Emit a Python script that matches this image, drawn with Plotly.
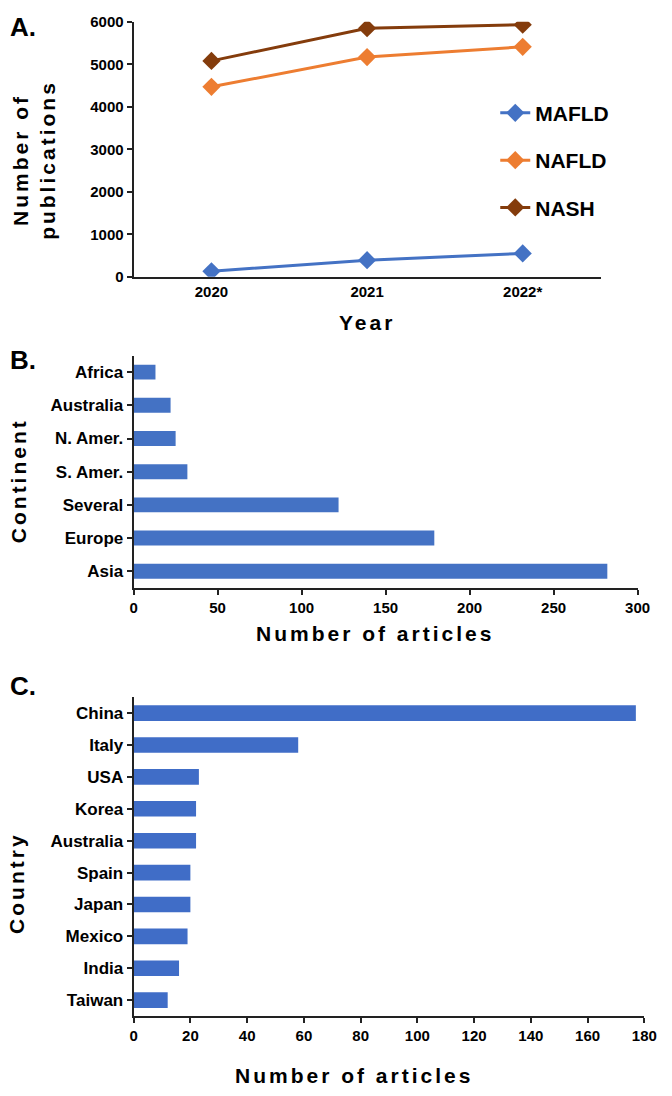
import plotly.graph_objects as go

W, H = 672, 1096

years = ["2020", "2021", "2022*"]
mafld = [130, 390, 550]
nafld = [4470, 5170, 5410]
nash = [5080, 5850, 5930]

continents = ["Asia", "Europe", "Several", "S. Amer.", "N. Amer.", "Australia", "Africa"]
continent_articles = [282, 179, 122, 32, 25, 22, 13]

countries = ["Taiwan", "India", "Mexico", "Japan", "Spain", "Australia", "Korea", "USA", "Italy", "China"]
country_articles = [12, 16, 19, 20, 20, 22, 22, 23, 58, 177]

BLUE = "#4472C4"
BLUE_C = "#406DC7"
ORANGE = "#ED7D31"
BROWN = "#843C0C"
FAM = "Liberation Sans, Arial"
NUMFONT = dict(family=FAM, size=15, color="black", weight="bold")
CATFONT = dict(family=FAM, size=17, color="black", weight="bold")


def px(x):
    return x / W


def py(y):
    return 1 - y / H


fig = go.Figure()

for name, vals, col in [("MAFLD", mafld, BLUE), ("NAFLD", nafld, ORANGE), ("NASH", nash, BROWN)]:
    fig.add_trace(go.Scatter(
        x=years, y=vals, name=name, mode="lines+markers",
        line=dict(color=col, width=3),
        marker=dict(symbol="diamond", size=14, color=col),
        xaxis="x", yaxis="y", legendgroup=name,
    ))

fig.add_trace(go.Bar(
    x=continent_articles, y=continents, orientation="h",
    marker=dict(color=BLUE, line=dict(width=0)), width=0.45,
    xaxis="x2", yaxis="y2", showlegend=False,
))

fig.add_trace(go.Bar(
    x=country_articles, y=countries, orientation="h",
    marker=dict(color=BLUE_C, line=dict(width=0)), width=0.49,
    xaxis="x3", yaxis="y3", showlegend=False,
))

base = dict(showline=True, linecolor="#222222", linewidth=2, showgrid=False,
            zeroline=False, tickcolor="#222222", ticklen=5, tickwidth=1.5)

fig.update_layout(
    width=W, height=H,
    margin=dict(l=0, r=0, t=0, b=0),
    plot_bgcolor="white", paper_bgcolor="white",
    showlegend=True,
    legend=dict(x=px(504), y=py(85), xanchor="left", yanchor="top",
                font=dict(family=FAM, size=21, color="black", weight="bold"),
                tracegroupgap=17, bgcolor="rgba(0,0,0,0)", itemwidth=30),
    xaxis=dict(domain=[px(133), px(612)], anchor="y", type="category", range=[-0.5, 2.5],
               ticks="", tickfont=NUMFONT, **base),
    yaxis=dict(domain=[py(272), py(13)], anchor="x", range=[0, 6000], dtick=1000,
               ticks="outside", tickfont=NUMFONT, **base),
    xaxis2=dict(domain=[px(133), px(650)], anchor="y2", range=[0, 300], dtick=50,
                ticks="outside", tickfont=NUMFONT, **base),
    yaxis2=dict(domain=[py(588), py(352)], anchor="x2", type="category",
                ticks="outside", tickfont=CATFONT, **base),
    xaxis3=dict(domain=[px(133), px(657)], anchor="y3", range=[0, 180], dtick=20,
                ticks="outside", tickfont=NUMFONT, **base),
    yaxis3=dict(domain=[py(1023), py(699)], anchor="x3", type="category",
                ticks="outside", tickfont=CATFONT, **base),
)

ann = []


def add_text(text, x, y, size, angle=0, spacing=None, xanchor="center", yanchor="middle"):
    if spacing:
        text = "<br>".join('<span style="letter-spacing:%dpx">%s</span>' % (spacing, t) for t in text.split("<br>"))
    ann.append(dict(text=text, x=px(x), y=py(y), xref="paper", yref="paper", showarrow=False,
                    textangle=angle, xanchor=xanchor, yanchor=yanchor,
                    font=dict(family=FAM, size=size, color="black", weight="bold")))


add_text("A.", 4, 18, 26, xanchor="left")
add_text("B.", 4, 357, 26, xanchor="left")
add_text("C.", 4, 688, 26, xanchor="left")
add_text("Number of<br>publications", 30, 153, 21, angle=-90, spacing=3)
add_text("Year", 372, 318, 21, spacing=3)
add_text("Continent", 15, 479, 21, angle=-90, spacing=3)
add_text("Number of articles", 381, 634, 21, spacing=3)
add_text("Country", 13, 888, 21, angle=-90, spacing=3)
add_text("Number of articles", 359, 1083, 21, spacing=3)
fig.update_layout(annotations=ann)

fig.write_html("out.html", config={"displayModeBar": False},
               post_script="document.body.style.margin='0';document.body.style.overflow='hidden';")
